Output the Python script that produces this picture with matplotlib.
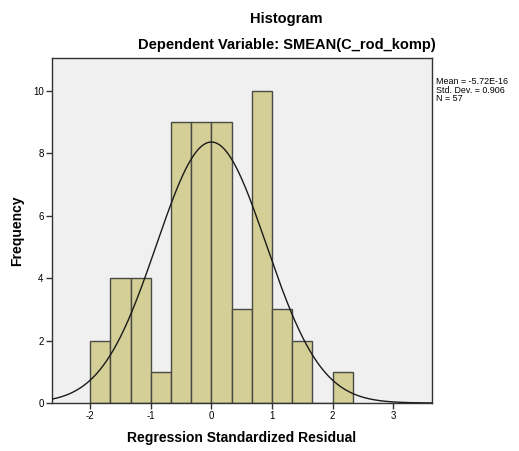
import matplotlib

matplotlib.use("Agg")
import matplotlib.pyplot as plt
import numpy as np

# bin edges (width 1/3) and counts
BIN_EDGES = [-2.0, -5 / 3, -4 / 3, -1.0, -2 / 3, -1 / 3, 0.0, 1 / 3, 2 / 3, 1.0, 4 / 3, 5 / 3, 2.0, 7 / 3]
COUNTS = [2, 4, 4, 1, 9, 9, 9, 3, 10, 3, 2, 0, 1]

MEAN = -5.72e-16
SD = 0.906
N = 57

X_TICKS = [-2, -1, 0, 1, 2, 3]
Y_TICKS = [0, 2, 4, 6, 8, 10]

plt.rcParams["font.family"] = ["Liberation Sans", "DejaVu Sans"]
plt.rcParams["axes.unicode_minus"] = False

fig = plt.figure(figsize=(5.19, 4.51), dpi=100)
ax = fig.add_axes([0.1002, 0.1064, 0.7322, 0.765])
ax.set_facecolor("#F0F0F0")

edges = np.array(BIN_EDGES)
ax.bar(edges[:-1], COUNTS, width=np.diff(edges), align="edge",
       color="#D3CF97", edgecolor="#4A4A44", linewidth=1.0, zorder=2)

# fitted normal curve, scaled to counts
xs = np.linspace(-2.63, 3.64, 400)
bw = edges[1] - edges[0]
ys = N * bw * np.exp(-0.5 * ((xs - MEAN) / SD) ** 2) / (SD * np.sqrt(2 * np.pi))
ax.plot(xs, ys, color="#1a1a1a", lw=1.0, zorder=3)

ax.set_xlim(-2.63, 3.64)
ax.set_ylim(0, 11.06)
ax.set_xticks(X_TICKS)
ax.set_yticks(Y_TICKS)
ax.tick_params(labelsize=7, length=4, width=1, color="#333333", direction="out", pad=2)
for s in ax.spines.values():
    s.set_color("#333333")
    s.set_linewidth(1.0)

ax.set_xlabel("Regression Standardized Residual", fontsize=10, fontweight="bold", labelpad=7)
ax.set_ylabel("Frequency", fontsize=10, fontweight="bold", labelpad=6)

fig.text(0.552, 0.958, "Histogram", fontsize=10.5, fontweight="bold", ha="center", va="center")
fig.text(0.552, 0.901, "Dependent Variable: SMEAN(C_rod_komp)", fontsize=10.5,
         fontweight="bold", ha="center", va="center")

fig.text(0.841, 0.83, "Mean = -5.72E-16\nStd. Dev. = 0.906\nN = 57", fontsize=6.4,
         ha="left", va="top", linespacing=0.98)

fig.savefig("out.png", dpi=100)
